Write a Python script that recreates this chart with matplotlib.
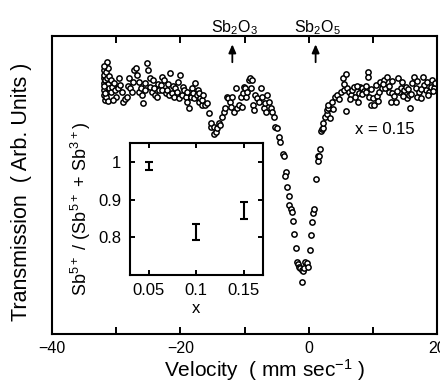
import matplotlib
matplotlib.use("Agg")
import matplotlib.pyplot as plt

plt.rcParams['font.family'] = ['Liberation Sans', 'DejaVu Sans']
plt.rcParams['mathtext.default'] = 'regular'

# Mossbauer spectrum (velocity in mm/s, relative transmission)
velocity = [
    -32.0, -32.0, -31.9, -31.9, -31.7, -31.7, -32.0, -31.9, -31.7, -31.6, -31.6, -31.6, -31.4,
    -31.4, -31.4, -31.3, -31.3, -31.3, -31.1, -31.1, -30.9, -30.9, -32.0, -31.9, -31.7,
    -30.7, -30.4, -30.2, -30.0, -29.8, -29.6, -29.4, -29.1, -28.9, -28.6, -28.3, -28.2, -28.1,
    -27.8, -27.5, -27.4, -27.3, -27.0, -26.8, -26.5, -26.4, -26.2, -26.0, -25.8, -25.6, -25.5,
    -25.2, -25.0, -24.8, -24.7, -24.4, -24.3, -24.2, -23.9, -23.6, -23.5, -23.4, -23.1, -22.9,
    -22.8, -22.6, -22.3, -22.1, -22.0, -21.8, -21.6, -21.3, -21.2, -21.0, -20.8, -20.5, -20.4,
    -20.3, -20.0, -19.7, -19.6, -19.5, -19.2, -19.0, -18.9, -18.7, -18.4, -18.2, -18.1, -17.9,
    -17.7, -17.4, -17.3, -17.1, -16.9, -16.6, -30.5, -17.1, -16.6,
    -16.4, -16.2, -15.8, -15.6, -15.3, -15.2, -14.8, -14.7, -14.5, -14.3, -14.0, -13.8, -13.5,
    -13.2, -13.0, -12.7, -12.5, -12.2, -12.1, -11.9, -11.7, -11.4, -11.1, -10.9, -10.6, -10.4,
    -10.1, -10.2, -9.8, -9.9, -9.6, -9.3, -9.1, -8.8, -9.0, -8.7, -8.5, -8.3, -8.0, -7.8, -7.5,
    -7.2, -7.0, -6.7, -6.8, -6.5, -6.2, -5.9, -5.7, -5.4, -5.2, -4.9, -4.6,
    -4.4, -4.0, -3.9, -3.6, -3.7, -3.3, -3.1, -3.0, -2.7, -2.6, -2.4, -2.2, -2.0, -1.8, -1.6,
    -1.5, -1.3, -1.1, -1.0, -0.9, -0.7, -0.5, -0.3, -0.1, 0.2, 0.4, 0.6, 0.7, 0.9, 1.2, 1.4,
    1.5, 1.6, 1.8, 2.0, 2.1, 2.2, 2.3, 2.5, 2.8, 2.9, 3.2,
    3.0, 3.1, 3.4, 3.7, 3.8, 4.2, 4.5, 4.7, 5.0, 5.3, 5.5, 5.8, 5.9, 6.0, 6.3, 6.6, 6.8, 7.1,
    7.3, 7.7, 7.9, 8.1, 8.4, 8.6, 8.9, 9.2, 9.3, 9.4, 9.7, 10.0, 10.2, 10.5, 10.7, 11.0, 11.2,
    11.5, 11.8, 12.0, 12.3, 12.5, 12.8, 13.1, 13.3, 13.6, 13.9, 14.1, 14.4, 14.6, 14.9, 15.2,
    15.4, 15.7, 15.9, 16.2, 16.5, 16.7, 17.0, 17.2, 17.5, 17.8, 18.0, 18.3, 18.5, 18.8, 19.1,
    19.3, 19.6, 19.8,
    5.6, 6.5, 7.5, 8.3, 9.0, 9.8, 10.9, 11.6, 12.6, 13.0, 13.8, 14.7, 15.5, 16.0, 16.9, 17.6,
    18.6, 19.4,
]
transmission = [
    1.014, 1.001, 1.006, 0.989, 0.996, 0.984, 1.009, 0.994, 1.004, 1.012, 0.999, 0.987, 1.022,
    1.006, 0.992, 0.983, 1.016, 1.000, 0.996, 1.008, 1.004, 0.992, 0.998, 1.018, 0.991,
    0.997, 1.001, 0.994, 0.987, 0.996, 1.006, 0.999, 0.992, 0.982, 0.985, 0.987, 0.998, 1.006,
    0.996, 0.992, 1.002, 1.014, 1.016, 1.009, 1.002, 0.992, 0.996, 0.989, 0.981, 0.994, 1.001,
    1.021, 1.014, 1.006, 0.997, 0.992, 1.004, 0.996, 0.989, 0.987, 1.000, 0.994, 0.999, 1.007,
    0.994, 1.004, 0.991, 0.994, 1.000, 0.989, 1.011, 0.991, 0.998, 0.987, 0.996, 0.992, 1.002,
    0.986, 1.009, 0.989, 0.997, 0.994, 0.987, 0.982, 0.992, 0.976, 0.987, 0.996, 0.991, 0.986,
    1.001, 0.989, 0.994, 0.982, 0.986, 0.979, 0.984, 0.991, 0.984,
    0.989, 0.979, 0.981, 0.971, 0.957, 0.961, 0.957, 0.950, 0.952, 0.956, 0.961, 0.959, 0.967,
    0.972, 0.976, 0.987, 0.986, 0.982, 0.977, 0.987, 0.972, 0.996, 0.976, 0.979, 0.987, 0.977,
    0.997, 0.991, 0.987, 0.996, 0.992, 1.004, 1.006, 1.004, 0.996, 0.979, 0.974, 0.989, 0.986,
    0.982, 0.996, 0.987, 0.976, 0.972, 0.981, 0.989, 0.982, 0.976, 0.972, 0.967, 0.957, 0.956,
    0.947,
    0.942, 0.930, 0.928, 0.912, 0.908, 0.897, 0.888, 0.879, 0.875, 0.872, 0.863, 0.850, 0.836,
    0.822, 0.820, 0.817, 0.816, 0.814, 0.802, 0.813, 0.816, 0.822, 0.821, 0.817, 0.834, 0.849,
    0.862, 0.871, 0.875, 0.905, 0.923, 0.928, 0.928, 0.935, 0.953, 0.955, 0.956, 0.961, 0.967,
    0.970, 0.974, 0.976,
    0.976, 0.979, 0.966, 0.982, 0.975, 0.987, 0.989, 0.985, 0.992, 1.006, 0.994, 0.973, 1.010,
    0.996, 0.992, 0.989, 0.994, 0.997, 0.987, 0.982, 0.991, 0.997, 0.996, 0.993, 0.998, 1.012,
    1.007, 0.987, 0.979, 0.986, 0.979, 0.999, 0.988, 0.992, 1.002, 0.996, 1.004, 0.996, 1.007,
    0.992, 0.982, 0.991, 0.988, 0.982, 1.006, 0.992, 0.996, 1.002, 0.994, 0.997, 0.986, 0.989,
    0.976, 1.001, 1.007, 0.996, 0.987, 0.992, 0.986, 1.007, 0.999, 0.994, 1.002, 0.992, 0.997,
    1.004, 0.996, 1.001,
    1.000, 0.985, 0.998, 0.990, 0.992, 0.995, 0.983, 1.000, 0.998, 1.003, 0.993, 0.988, 0.995,
    0.990, 1.003, 0.995, 0.989, 0.993,
]

# Reference positions of the oxides
oxide_labels = ['Sb$_2$O$_3$', 'Sb$_2$O$_5$']
oxide_velocity = [-11.9, 1.1]

# Inset: Sb5+ fraction vs x
inset_x = [0.05, 0.10, 0.15]
inset_ratio = [0.990, 0.814, 0.871]
inset_err = [0.010, 0.021, 0.022]

fig = plt.figure(figsize=(4.40, 3.86), dpi=100)
ax = fig.add_axes([52.3 / 440, 52 / 386, 384.4 / 440, 298 / 386])
ax.plot(velocity, transmission, linestyle='none', marker='o', markersize=3.8,
        markerfacecolor='white', markeredgecolor='black', markeredgewidth=1.1)
ax.set_xlim(-40, 20)
ax.set_ylim(0.750, 1.048)
ax.set_xticks([-40, -30, -20, -10, 0, 10, 20])
ax.set_xticklabels(['\u221240', '', '\u221220', '', '0', '', '20'])
ax.set_yticks([])
ax.tick_params(axis='x', direction='in', top=True, bottom=True, length=5, width=1.4,
               labelsize=11.5, pad=5)
for s in ax.spines.values():
    s.set_linewidth(1.5)
ax.set_xlabel('Velocity  ( mm sec$^{-1}$ )', fontsize=15)
ax.xaxis.set_label_coords(0.553, -0.078)
ax.set_ylabel('Transmission  ( Arb. Units )', fontsize=15.5)
ax.yaxis.set_label_coords(-0.052, 0.476)

for lab, v in zip(oxide_labels, oxide_velocity):
    ax.annotate('', xy=(v, 0.972), xycoords=('data', 'axes fraction'),
                xytext=(v, 0.912), textcoords=('data', 'axes fraction'),
                arrowprops=dict(arrowstyle='-|>,head_length=0.5,head_width=0.22',
                                color='black', lw=1.3, shrinkA=0, shrinkB=0))
    ax.text(v + 0.3, 1.013, lab, transform=ax.get_xaxis_transform(), ha='center',
            va='baseline', fontsize=11.5, clip_on=False)

ax.text(0.865, 0.685, 'x = 0.15', transform=ax.transAxes, ha='center', va='center',
        fontsize=12)

ins = fig.add_axes([129.8 / 440, 111 / 386, 132.7 / 440, 131.7 / 386])
ins.errorbar(inset_x, inset_ratio, yerr=inset_err, fmt='none', ecolor='black',
             elinewidth=1.5, capsize=2.6, capthick=1.5)
ins.set_xlim(0.03, 0.17)
ins.set_ylim(0.70, 1.05)
ins.set_xticks([0.05, 0.1, 0.15])
ins.set_xticklabels(['0.05', '0.1', '0.15'])
ins.set_yticks([0.8, 0.9, 1.0])
ins.set_yticklabels(['0.8', '0.9', '1'])
ins.tick_params(direction='in', top=True, bottom=True, left=True, right=True,
                length=3.5, width=1.4, labelsize=12, pad=6)
for s in ins.spines.values():
    s.set_linewidth(1.5)
ins.set_xlabel('x', fontsize=12, labelpad=2)
ins.set_ylabel('Sb$^{5+}$ / (Sb$^{5+}$ + Sb$^{3+}$)', fontsize=13, labelpad=4)

fig.savefig('out.png', dpi=100)
